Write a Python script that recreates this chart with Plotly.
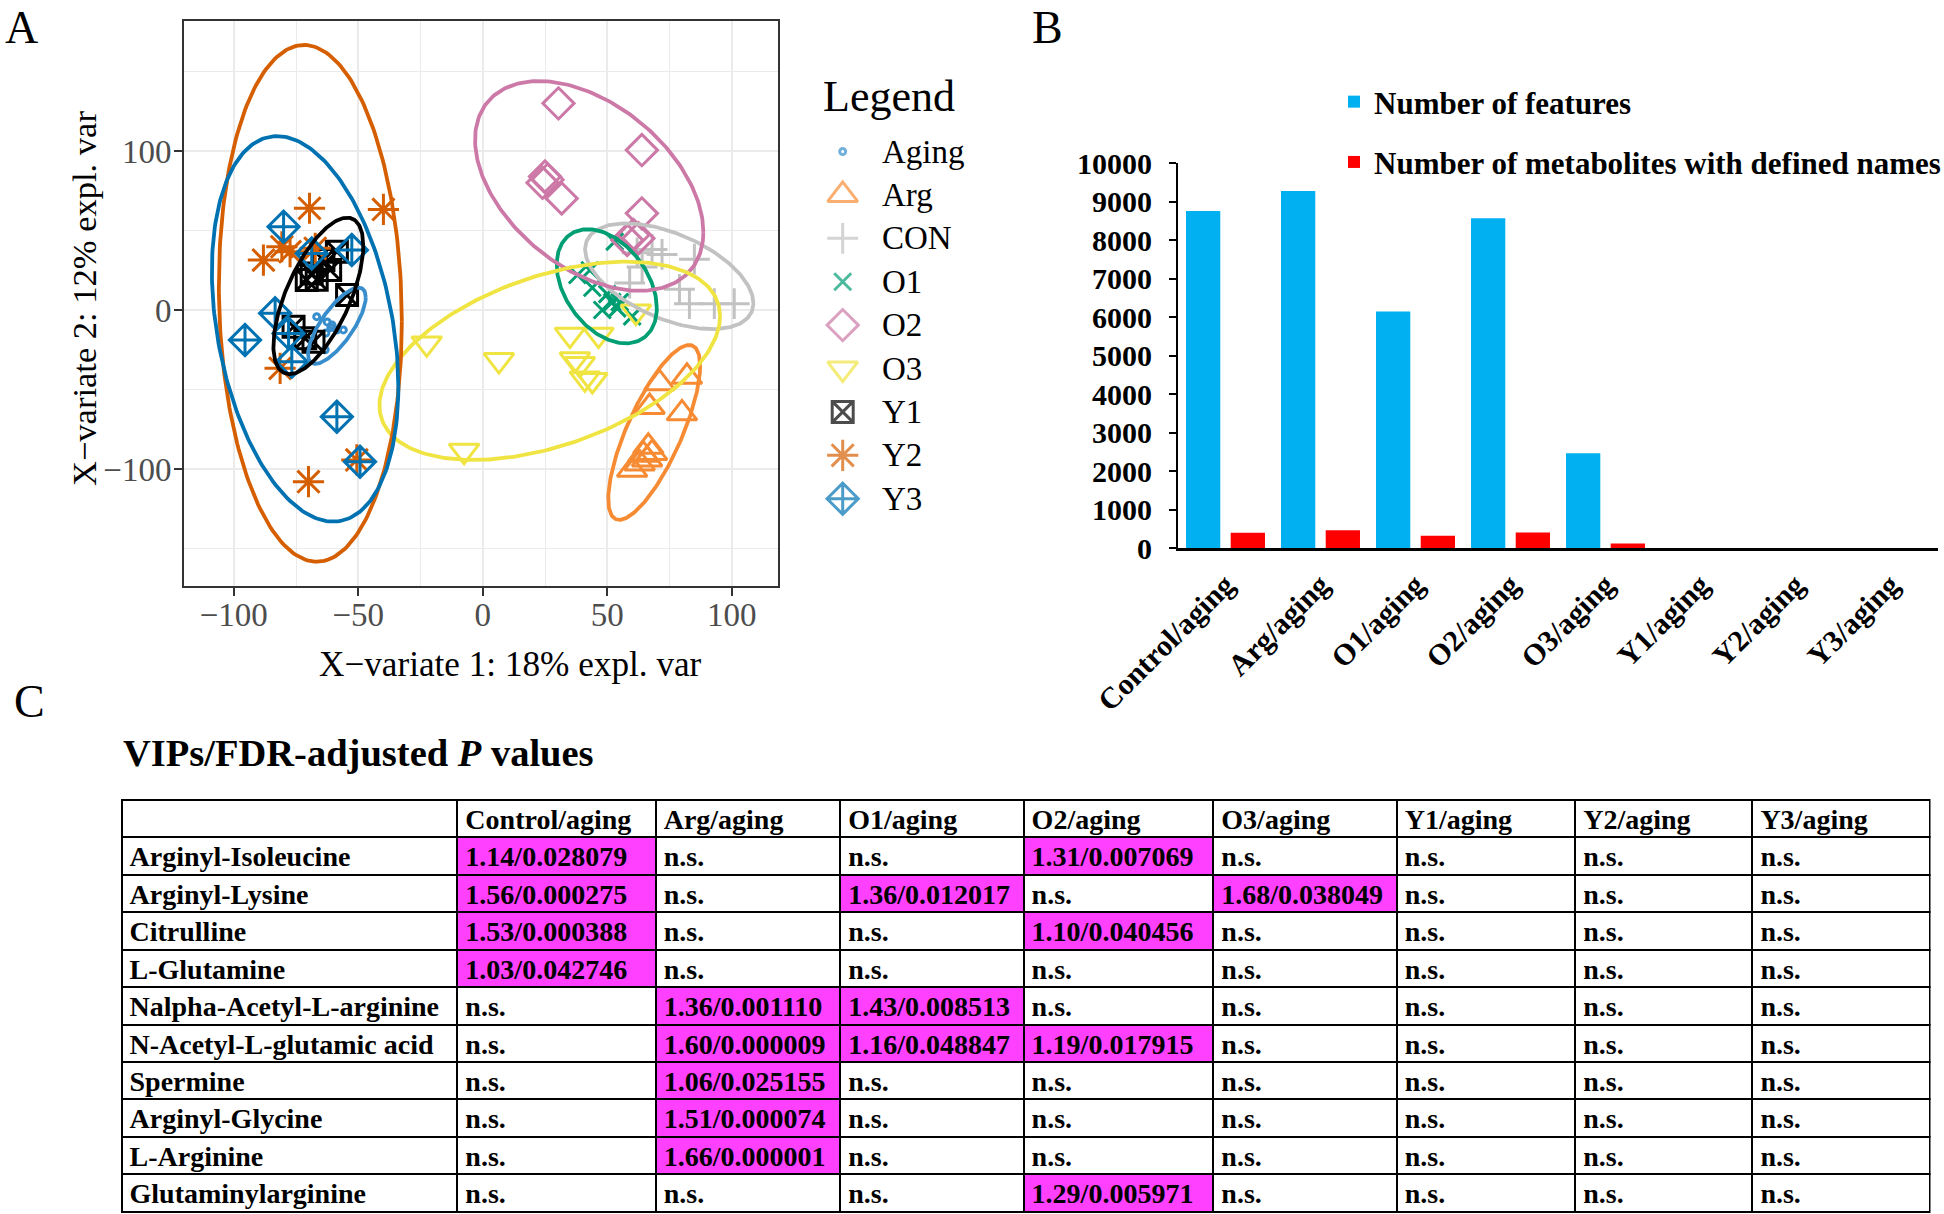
import numpy as np
import plotly.graph_objects as go

W, H = 1944, 1214
SERIF = "Liberation Serif, Times New Roman, serif"


def px(x):
    return x / W


def py(y):
    return 1 - y / H


# ---------------- Panel A data ----------------
groups = ["Aging", "Arg", "CON", "O1", "O2", "O3", "Y1", "Y2", "Y3"]
colors = ["#388ECC", "#F68B33", "#C2C2C2", "#009E73", "#CC79A7",
          "#F0E442", "#000000", "#D55E00", "#0072B2"]
symbols = ["circle-open", "triangle-up-open", "cross-thin-open", "x-thin-open",
           "diamond-open", "triangle-down-open", "square-x-open",
           "asterisk-open", "diamond-cross-open"]
msizes = [6, 26, 22, 17, 24, 26, 21, 26, 24]

aging_x = [-66.7, -62.5, -60.5, -58.5, -56, -63, -61, -63.3]
aging_y = [-4.2, -7.5, -9.5, -12.5, -12.5, -14.5, -11, -25]
arg_x = [71, 82, 67, 80, 66.5, 64.5, 63, 60, 66, 68]
arg_y = [-46, -42, -61, -65, -86, -91, -96.5, -100.5, -94, -90]
con_x = [62, 68, 72, 85, 64, 59, 79, 83, 93, 101]
con_y = [36, 38, 35, 32, 27, 17, 13, 4, 4, 4]
o1_x = [53, 38, 43, 44, 50, 52, 55, 48, 60, 54]
o1_y = [43, 22, 25, 14, 10, 5, 5, 0, -4, 1]
o2_x = [30.4, 63.9, 25, 26, 24, 31.7, 63.9, 60.5, 62.5, 58]
o2_y = [130, 100.6, 84, 82, 80, 70.2, 60.8, 47.2, 45.1, 44]
o3_x = [-22.5, 6.5, -7.5, 35, 46.5, 37, 41, 44, 61.5, 39]
o3_y = [-21, -31.5, -88.5, -15.5, -15.5, -31, -43, -44, -1, -34]
y1_x = [-58.6, -64, -70.7, -66.7, -68.7, -61.3, -54.5, -76, -71.3, -68]
y1_y = [36.7, 31.4, 18.9, 19, 23, 25.2, 9.4, -10.5, -17.8, -20]
y2_x = [-69.6, -39.9, -88.1, -80.7, -77.4, -67.3, -81.4, -70, -50.6]
y2_y = [64, 63.3, 31.4, 39.8, 36.7, 38.8, -36.7, -108, -94.3]
y3_x = [-80, -68.7, -52.6, -83.4, -95.5, -78, -76.7, -58.6, -49.3]
y3_y = [52.4, 35.6, 37.7, -2, -18.9, -14.7, -32.5, -67.1, -95.4]

xs_all = [aging_x, arg_x, con_x, o1_x, o2_x, o3_x, y1_x, y2_x, y3_x]
ys_all = [aging_y, arg_y, con_y, o1_y, o2_y, o3_y, y1_y, y2_y, y3_y]

# confidence ellipses: centre, half-extents and correlation
ell_cx = [-58.6, 68.85, 74.9, 49.8, 42.75, 26.9, -66.05, -69.25, -71.35]
ell_cy = [-9.9, -77.0, 21.25, 14.9, 78.05, -31.95, 8.9, 4.2, -11.85]
ell_sx = [11.6, 18.45, 33.8, 20.1, 45.85, 68.4, 18.05, 36.75, 37.45]
ell_sy = [24.0, 55.0, 33.25, 35.9, 65.95, 62.35, 49.2, 162.5, 121.25]
ell_rho = [0.75, 0.76, -0.51, -0.38, -0.44, 0.45, 0.64, -0.07, -0.30]

x_title = "X\u2212variate 1: 18% expl. var"
y_title = "X\u2212variate 2: 12% expl. var"

# ---------------- Panel B data ----------------
comparisons = ["Control/aging", "Arg/aging", "O1/aging", "O2/aging",
               "O3/aging", "Y1/aging", "Y2/aging", "Y3/aging"]
n_features = [8760, 9280, 6150, 8570, 2470, 0, 0, 0]
n_named = [405, 470, 325, 410, 125, 0, 0, 0]

# ---------------- Panel C data ----------------
metabolites = ["Arginyl-Isoleucine", "Arginyl-Lysine", "Citrulline", "L-Glutamine",
               "Nalpha-Acetyl-L-arginine", "N-Acetyl-L-glutamic acid", "Spermine",
               "Arginyl-Glycine", "L-Arginine", "Glutaminylarginine"]
NS = "n.s."
col_control = ["1.14/0.028079", "1.56/0.000275", "1.53/0.000388", "1.03/0.042746",
               NS, NS, NS, NS, NS, NS]
col_arg = [NS, NS, NS, NS, "1.36/0.001110", "1.60/0.000009", "1.06/0.025155",
           "1.51/0.000074", "1.66/0.000001", NS]
col_o1 = [NS, "1.36/0.012017", NS, NS, "1.43/0.008513", "1.16/0.048847",
          NS, NS, NS, NS]
col_o2 = ["1.31/0.007069", NS, "1.10/0.040456", NS, NS, "1.19/0.017915",
          NS, NS, NS, "1.29/0.005971"]
col_o3 = [NS, "1.68/0.038049", NS, NS, NS, NS, NS, NS, NS, NS]
col_y1 = [NS] * 10
col_y2 = [NS] * 10
col_y3 = [NS] * 10
table_cols = [col_control, col_arg, col_o1, col_o2, col_o3, col_y1, col_y2, col_y3]

fig = go.Figure()

# ---- Panel A: points ----
for g, col, sym, sz, xs, ys in zip(groups, colors, symbols, msizes, xs_all, ys_all):
    fig.add_trace(go.Scatter(
        x=xs, y=ys, mode="markers", name=g, showlegend=False,
        marker=dict(symbol=sym, size=sz, color=col, line=dict(color=col, width=3)),
        xaxis="x", yaxis="y"))

# ---- Panel A: ellipses ----
t = np.linspace(0, 2 * np.pi, 240)
for g, col, cx, cy, sx, sy, rho in zip(groups, colors, ell_cx, ell_cy, ell_sx, ell_sy, ell_rho):
    ex = cx + sx * np.cos(t)
    ey = cy + sy * (rho * np.cos(t) + np.sqrt(1 - rho ** 2) * np.sin(t))
    fig.add_trace(go.Scatter(
        x=ex, y=ey, mode="lines", showlegend=False, hoverinfo="skip",
        line=dict(color=col, width=3.8), xaxis="x", yaxis="y"))

# ---- Panel A: legend (own axis) ----
rows = list(range(len(groups)))
fig.add_trace(go.Scatter(
    x=[0] * len(groups), y=rows, mode="markers", showlegend=False, hoverinfo="skip",
    marker=dict(symbol=symbols, size=msizes, color=colors,
                line=dict(color=colors, width=3)),
    xaxis="x3", yaxis="y3"))

# ---- Panel B: bars ----
fig.add_trace(go.Bar(x=comparisons, y=n_features, name="Number of features",
                     marker=dict(color="#00B0F0", line=dict(width=0)),
                     xaxis="x2", yaxis="y2", legend="legend2", legendgroup="f"))
fig.add_trace(go.Bar(x=comparisons, y=n_named, name="Number of metabolites with defined names",
                     marker=dict(color="#FF0000", line=dict(width=0)),
                     xaxis="x2", yaxis="y2", legend="legend2", legendgroup="m"))

# ---- Panel C: table ----
MAG = "#FF40FF"
fills = [["white"] * len(metabolites)] + [[("white" if v == NS else MAG) for v in c] for c in table_cols]
tfont = dict(family=SERIF, size=28, color="black", weight="bold")
ROWH = 37.43
fig.add_trace(go.Table(
    domain=dict(x=[px(121.5), px(1930.3)], y=[0, py(800)]),
    columnwidth=[336, 198.4, 184.7, 183.4, 189.8, 183.5, 178.5, 177.3, 177.2],
    header=dict(values=[""] + comparisons, fill=dict(color="white"),
                line=dict(color="black", width=2), align="left", font=tfont, height=ROWH),
    cells=dict(values=[metabolites] + table_cols, fill=dict(color=fills),
               line=dict(color="black", width=2), align="left", font=tfont, height=ROWH),
))

axis_a_common = dict(showline=True, mirror=True, linecolor="#333333", linewidth=2,
                     ticks="outside", ticklen=8, tickwidth=2, tickcolor="#333333",
                     showgrid=True, gridcolor="#EBEBEB", gridwidth=2, zeroline=False,
                     automargin=False,
                     tickfont=dict(family=SERIF, size=33, color="#4D4D4D"))

# legend axis geometry (rows spaced 43.4 px, first row at y=151.5 px)
leg_x0, leg_unit = 842.7, 37.3
leg_y0, leg_step = 151.5, 43.4

fig.update_layout(
    width=W, height=H, margin=dict(l=0, r=0, t=0, b=0, autoexpand=False),
    paper_bgcolor="white", plot_bgcolor="white",
    xaxis=dict(domain=[px(184), px(778.3)], range=[-120, 118.7], anchor="y",
               tickvals=[-100, -50, 0, 50, 100], ticklabelstandoff=-10,
               minor=dict(tickvals=[-75, -25, 25, 75], showgrid=True,
                          gridcolor="#EBEBEB", gridwidth=1.4, ticks=""),
               **axis_a_common),
    yaxis=dict(domain=[py(586), py(21)], range=[-173.6, 181.8], anchor="x",
               tickvals=[-100, 0, 100], ticklabelstandoff=-4,
               minor=dict(tickvals=[-150, -50, 50, 150], showgrid=True,
                          gridcolor="#EBEBEB", gridwidth=1.4, ticks=""),
               **axis_a_common),
    xaxis3=dict(domain=[px(812), px(1000)], anchor="y3", visible=False, automargin=False,
                range=[(812 - leg_x0) / leg_unit, (1000 - leg_x0) / leg_unit]),
    yaxis3=dict(domain=[py(530), py(115)], anchor="x3", visible=False, automargin=False,
                range=[(530 - leg_y0) / leg_step, (115 - leg_y0) / leg_step]),
    xaxis2=dict(domain=[px(1178), px(1938)], anchor="y2", range=[-0.5, 7.5],
                showline=True, linecolor="black", linewidth=3, ticks="",
                tickangle=-45, showgrid=False, zeroline=False, ticklabelstandoff=4,
                automargin=False,
                tickfont=dict(family=SERIF, size=30, color="black", weight="bold")),
    yaxis2=dict(domain=[py(548.3), py(163.3)], anchor="x2", range=[0, 10000],
                tick0=0, dtick=1000, tickformat="d", showline=True, linecolor="black",
                linewidth=2, ticks="outside", ticklen=7, tickwidth=2, tickcolor="black",
                showgrid=False, zeroline=False, automargin=False, ticklabelstandoff=11,
                tickfont=dict(family=SERIF, size=30, color="black", weight="bold")),
    barmode="group", bargap=0.059, bargroupgap=0.233,
    showlegend=True,
    legend2=dict(x=px(1334), y=py(75), xanchor="left", yanchor="top",
                 font=dict(family=SERIF, size=31, color="black", weight="bold"),
                 traceorder="grouped", tracegroupgap=17, bgcolor="rgba(0,0,0,0)"),
)

annotations = []
for i, g in enumerate(groups):
    annotations.append(dict(x=1, y=i, xref="x3", yref="y3", text=g, showarrow=False,
                            xanchor="left", yanchor="middle",
                            font=dict(family=SERIF, size=33, color="black")))
annotations.append(dict(x=px(821), y=py(97), xref="paper", yref="paper", text="Legend",
                        showarrow=False, xanchor="left", yanchor="middle",
                        font=dict(family=SERIF, size=44, color="black")))
# panel A axis titles
annotations.append(dict(x=px(511), y=py(664.5), xref="paper", yref="paper", text=x_title,
                        showarrow=False, xanchor="center", yanchor="middle",
                        font=dict(family=SERIF, size=35.2, color="black")))
annotations.append(dict(x=px(84), y=py(299), xref="paper", yref="paper", text=y_title,
                        showarrow=False, xanchor="center", yanchor="middle", textangle=-90,
                        font=dict(family=SERIF, size=34.5, color="black")))
for lab, lx in [("A", 21), ("B", 1047.5)]:
    annotations.append(dict(x=px(lx), y=1, xref="paper", yref="paper", text=lab,
                            showarrow=False, xanchor="center", yanchor="top",
                            font=dict(family=SERIF, size=46, color="black")))
annotations.append(dict(x=px(29.7), y=py(701.5), xref="paper", yref="paper", text="C",
                        showarrow=False, xanchor="center", yanchor="middle",
                        font=dict(family=SERIF, size=46, color="black")))
annotations.append(dict(x=px(120.6), y=py(753), xref="paper", yref="paper",
                        text="<b>VIPs/FDR-adjusted <i>P</i> values</b>", showarrow=False,
                        xanchor="left", yanchor="middle",
                        font=dict(family=SERIF, size=38.5, color="black")))
fig.update_layout(annotations=annotations)

fig.write_html("out.html", config={"displayModeBar": False},
               post_script="document.body.style.margin='0';document.body.style.overflow='hidden';")
